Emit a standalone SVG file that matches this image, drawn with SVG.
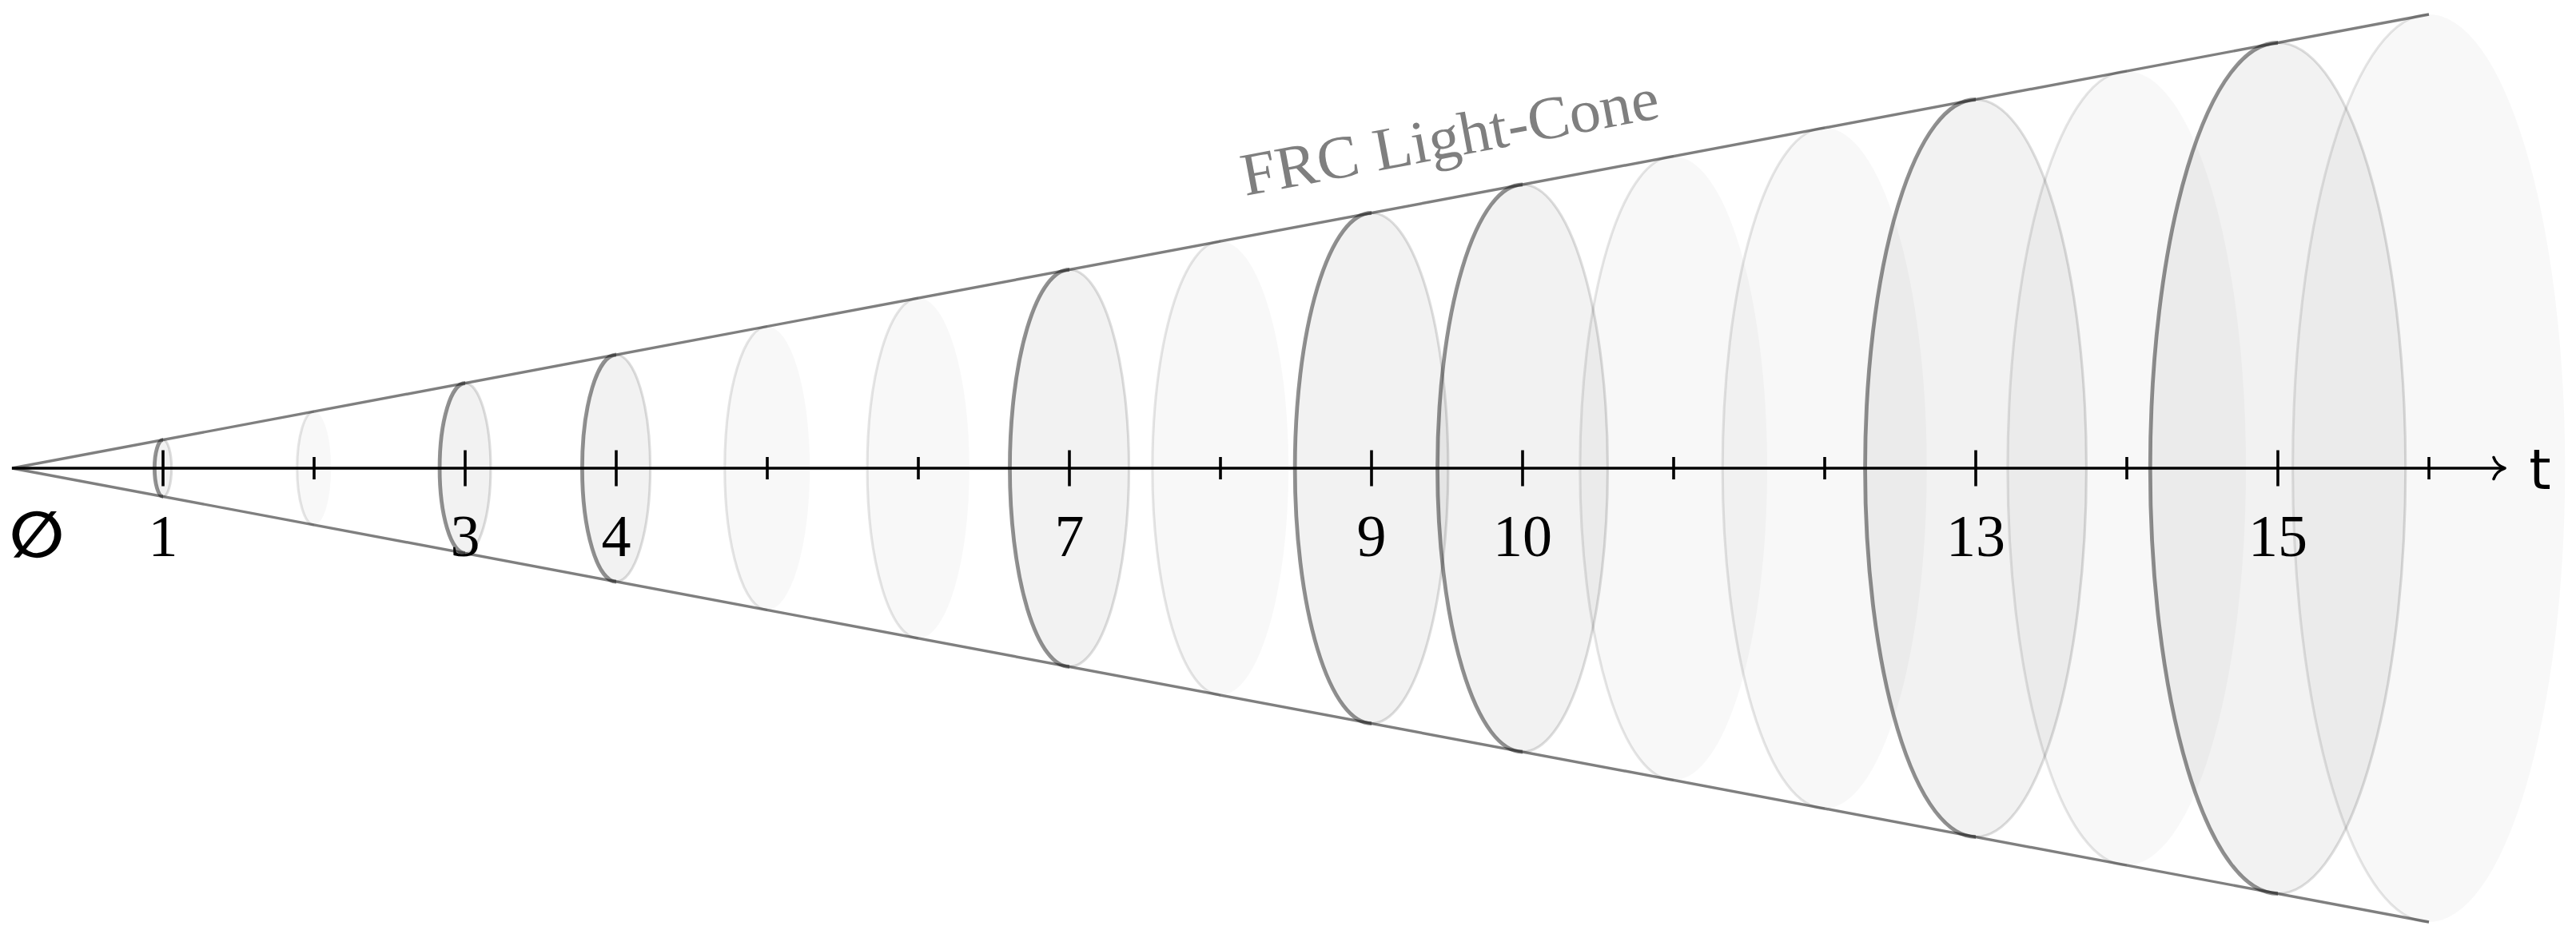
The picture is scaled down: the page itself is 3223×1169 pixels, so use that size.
<svg xmlns="http://www.w3.org/2000/svg" width="3223" height="1169" viewBox="0 0 3223 1169">
<style>
.fh{fill:#000;fill-opacity:0.052;stroke:none}
.ff{fill:#000;fill-opacity:0.028;stroke:none}
.dl{fill:none;stroke:#000;stroke-opacity:0.43;stroke-width:4.8}
.lr{fill:none;stroke:#000;stroke-opacity:0.13;stroke-width:3.2}
.fl{fill:none;stroke:#000;stroke-opacity:0.1;stroke-width:3.2}
.cone{stroke:#000;stroke-opacity:0.5;stroke-width:3.4;fill:none}
.axis{stroke:#000;stroke-width:3.6;fill:none}
.tk{stroke:#000;stroke-width:3.6}
.num{font-family:"Liberation Serif",serif;font-size:74px;fill:#000;text-anchor:middle}
</style>
<rect width="3223" height="1169" fill="#fff"/>
<g id="discs">
<g id="d1"><ellipse class="fh" cx="204" cy="586" rx="10.65" ry="35.5"/><path class="lr" d="M204,550.5 A10.65,35.5 0 0 1 204,621.5"/><path class="dl" d="M204,550.5 A10.65,35.5 0 0 0 204,621.5"/></g>
<g id="d2"><ellipse class="ff" cx="393" cy="586" rx="21.3" ry="71"/><path class="fl" d="M393,515 A21.3,71 0 0 0 393,657"/></g>
<g id="d3"><ellipse class="fh" cx="582" cy="586" rx="31.95" ry="106.5"/><path class="lr" d="M582,479.5 A31.95,106.5 0 0 1 582,692.5"/><path class="dl" d="M582,479.5 A31.95,106.5 0 0 0 582,692.5"/></g>
<g id="d4"><ellipse class="fh" cx="771" cy="586" rx="42.6" ry="142"/><path class="lr" d="M771,444 A42.6,142 0 0 1 771,728"/><path class="dl" d="M771,444 A42.6,142 0 0 0 771,728"/></g>
<g id="d5"><ellipse class="ff" cx="960" cy="586" rx="53.25" ry="177.5"/><path class="fl" d="M960,408.5 A53.25,177.5 0 0 0 960,763.5"/></g>
<g id="d6"><ellipse class="ff" cx="1149" cy="586" rx="63.9" ry="213"/><path class="fl" d="M1149,373 A63.9,213 0 0 0 1149,799"/></g>
<g id="d7"><ellipse class="fh" cx="1338" cy="586" rx="74.55" ry="248.5"/><path class="lr" d="M1338,337.5 A74.55,248.5 0 0 1 1338,834.5"/><path class="dl" d="M1338,337.5 A74.55,248.5 0 0 0 1338,834.5"/></g>
<g id="d8"><ellipse class="ff" cx="1527" cy="586" rx="85.2" ry="284"/><path class="fl" d="M1527,302 A85.2,284 0 0 0 1527,870"/></g>
<g id="d9"><ellipse class="fh" cx="1716" cy="586" rx="95.85" ry="319.5"/><path class="lr" d="M1716,266.5 A95.85,319.5 0 0 1 1716,905.5"/><path class="dl" d="M1716,266.5 A95.85,319.5 0 0 0 1716,905.5"/></g>
<g id="d10"><ellipse class="fh" cx="1905" cy="586" rx="106.5" ry="355"/><path class="lr" d="M1905,231 A106.5,355 0 0 1 1905,941"/><path class="dl" d="M1905,231 A106.5,355 0 0 0 1905,941"/></g>
<g id="d11"><ellipse class="ff" cx="2094" cy="586" rx="117.15" ry="390.5"/><path class="fl" d="M2094,195.5 A117.15,390.5 0 0 0 2094,976.5"/></g>
<g id="d12"><ellipse class="ff" cx="2283" cy="586" rx="127.8" ry="426"/><path class="fl" d="M2283,160 A127.8,426 0 0 0 2283,1012"/></g>
<g id="d13"><ellipse class="fh" cx="2472" cy="586" rx="138.45" ry="461.5"/><path class="lr" d="M2472,124.5 A138.45,461.5 0 0 1 2472,1047.5"/><path class="dl" d="M2472,124.5 A138.45,461.5 0 0 0 2472,1047.5"/></g>
<g id="d14"><ellipse class="ff" cx="2661" cy="586" rx="149.1" ry="497"/><path class="fl" d="M2661,89 A149.1,497 0 0 0 2661,1083"/></g>
<g id="d15"><ellipse class="fh" cx="2850" cy="586" rx="159.75" ry="532.5"/><path class="lr" d="M2850,53.5 A159.75,532.5 0 0 1 2850,1118.5"/><path class="dl" d="M2850,53.5 A159.75,532.5 0 0 0 2850,1118.5"/></g>
<g id="d16"><ellipse class="ff" cx="3039" cy="586" rx="170.4" ry="568"/><path class="fl" d="M3039,18 A170.4,568 0 0 0 3039,1154"/></g>
</g>
<g id="cone">
<path class="cone" d="M3039,18 L15,586 L3039,1154"/>
<text x="0" y="0" transform="translate(1558,245) rotate(-10.64)" font-family="'Liberation Serif',serif" font-size="76" fill="#7f7f7f" textLength="530" lengthAdjust="spacingAndGlyphs">FRC Light-Cone</text>
</g>
<g id="axis">
<line class="axis" x1="15" y1="586" x2="3132" y2="586"/>
<path class="axis" stroke-linecap="round" stroke-linejoin="round" d="M3120,572.5 C3122,579 3128,584 3134,586 C3128,588 3122,593 3120,599.5"/>
<g class="tk">
<line x1="204" y1="563.5" x2="204" y2="608.5"/>
<line x1="393" y1="572" x2="393" y2="600"/>
<line x1="582" y1="563.5" x2="582" y2="608.5"/>
<line x1="771" y1="563.5" x2="771" y2="608.5"/>
<line x1="960" y1="572" x2="960" y2="600"/>
<line x1="1149" y1="572" x2="1149" y2="600"/>
<line x1="1338" y1="563.5" x2="1338" y2="608.5"/>
<line x1="1527" y1="572" x2="1527" y2="600"/>
<line x1="1716" y1="563.5" x2="1716" y2="608.5"/>
<line x1="1905" y1="563.5" x2="1905" y2="608.5"/>
<line x1="2094" y1="572" x2="2094" y2="600"/>
<line x1="2283" y1="572" x2="2283" y2="600"/>
<line x1="2472" y1="563.5" x2="2472" y2="608.5"/>
<line x1="2661" y1="572" x2="2661" y2="600"/>
<line x1="2850" y1="563.5" x2="2850" y2="608.5"/>
<line x1="3039" y1="572" x2="3039" y2="600"/>
</g>
<text x="3178" y="612" font-family="'DejaVu Sans',sans-serif" font-size="70" text-anchor="middle">t</text>
<text x="46" y="697" font-family="'DejaVu Sans',sans-serif" font-size="80" font-weight="bold" text-anchor="middle">∅</text>
</g>
<g id="labels">
<text class="num" x="204" y="696">1</text>
<text class="num" x="582" y="696">3</text>
<text class="num" x="771" y="696">4</text>
<text class="num" x="1338" y="696">7</text>
<text class="num" x="1716" y="696">9</text>
<text class="num" x="1905" y="696">10</text>
<text class="num" x="2472" y="696">13</text>
<text class="num" x="2850" y="696">15</text>
</g>
</svg>
